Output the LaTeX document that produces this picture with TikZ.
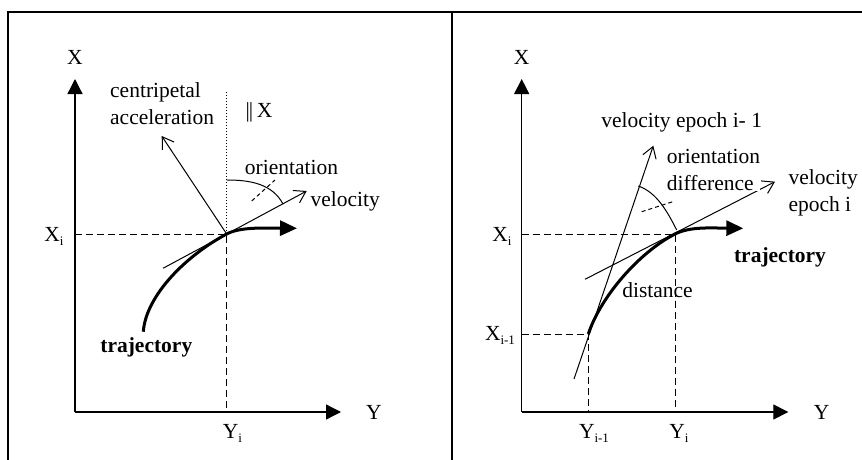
\documentclass[tikz,border=0pt]{standalone}
\usepackage{fontspec}
\setmainfont{Liberation Serif}
\usetikzlibrary{arrows.meta}
\newcommand\mysub[1]{\raisebox{-4pt}{\fontsize{13}{13}\selectfont #1}}
\begin{document}
\begin{tikzpicture}[x=1pt,y=-1pt,
  txt/.style={font=\fontsize{21.5}{27}\selectfont, inner sep=0pt},
  axis/.style={line width=1.3pt,-{Triangle[length=15pt,width=15pt]}},
  thinl/.style={line width=1pt},
  vec/.style={line width=1pt,-{Straight Barb[length=11pt,width=14pt]}},
  guide/.style={line width=1pt,dash pattern=on 7pt off 4pt},
  tick/.style={line width=1pt,dash pattern=on 4pt off 3pt},
  traj/.style={line width=3pt,-{Triangle[length=17pt,width=15pt]}},
  frame/.style={line width=1.5pt},
]
\useasboundingbox (0,0) rectangle (862,460);
% frame
\draw[frame] (8,460) -- (8,12) -- (862,12);
\draw[frame] (452,12) -- (452,460);

% ---------------- left panel
\coordinate (LO) at (75,412);
\coordinate (LXt) at (75,79);
\coordinate (LYt) at (341,412);
\coordinate (P) at (226.7,234);
\coordinate (LXi) at (75,234);
\coordinate (LYi) at (226.7,412);
\coordinate (Ldot) at (226.7,92);
\coordinate (Ltraj0) at (143.3,331.7);
\coordinate (Ltraj1) at (297,228.3);
\coordinate (Ltan0) at (163,268.3);
\coordinate (Lvel) at (306.7,191);
\coordinate (Lacc) at (161.7,136);
\coordinate (Larc0) at (227,180);
\coordinate (Larc1) at (283,204);
\coordinate (Ltick0) at (251.7,201);
\coordinate (Ltick1) at (275,180);

\draw[guide] (LXi) -- (P) -- (LYi);
\draw[thinl, dotted] (P) -- (Ldot);
\draw[axis] (LO) -- (LXt);
\draw[axis] (LO) -- (LYt);
\draw[traj] (Ltraj0) .. controls (146,295) and (187,255) .. (P) .. controls (240,227) and (262,228) .. (Ltraj1);
\draw[vec] (Ltan0) -- (Lvel);
\draw[vec] (P) -- (Lacc);
\draw[thinl] (Larc0) .. controls (252,180) and (272.6,184.6) .. (Larc1);
\draw[tick] (Ltick0) -- (Ltick1);

\node[txt] (lX) at (75,57) {X};
\node[txt] (lY) at (374,412) {Y};
\node[txt] (lXi) at (54,236) {X\mysub{i}};
\node[txt] (lYi) at (232.5,433) {Y\mysub{i}};
\node[txt, align=left, anchor=west] (lcent) at (110,104) {centripetal\\acceleration};
\node[txt] (lpar) at (259,112) {|\kern-1pt|\,X};
\node[txt] (lori) at (291.5,167) {orientation};
\node[txt] (lvel) at (345.3,201) {velocity};
\node[txt, font=\fontsize{21.5}{27}\selectfont\bfseries] (ltraj) at (146.3,347) {trajectory};

% ---------------- right panel
\coordinate (RO) at (521.7,412);
\coordinate (RXt) at (521.7,79);
\coordinate (RYt) at (788.3,412);
\coordinate (Q) at (675,234);
\coordinate (Q0) at (588.3,334);
\coordinate (RXi) at (521.7,234);
\coordinate (RYi) at (675,412);
\coordinate (RXj) at (521.7,334);
\coordinate (RYj) at (588.3,412);
\coordinate (Rtraj1) at (743.3,228.3);
\coordinate (Rv0a) at (574,379);
\coordinate (Rv0b) at (653.3,145.7);
\coordinate (Rv1a) at (585,279.3);
\coordinate (Rv1b) at (775,181.7);
\coordinate (Rarc0) at (638.3,186);
\coordinate (Rarc1) at (676.7,230);
\coordinate (Rtick0) at (641.7,211.7);
\coordinate (Rtick1) at (675,201);

\draw[guide] (RXi) -- (Q) -- (RYi);
\draw[guide] (RXj) -- (Q0) -- (RYj);
\draw[axis] (RO) -- (RXt);
\draw[axis] (RO) -- (RYt);
\draw[traj] (Q0) .. controls (601,296) and (639.4,252.3) .. (Q) .. controls (690,226.5) and (710,228) .. (Rtraj1);
\draw[vec] (Rv0a) -- (Rv0b);
\draw[vec] (Rv1a) -- (Rv1b);
\draw[thinl] (Rarc0) .. controls (657,192.4) and (667.6,212.2) .. (Rarc1);
\draw[tick] (Rtick0) -- (Rtick1);

\node[txt] (rX) at (521.7,57) {X};
\node[txt] (rY) at (821.7,412) {Y};
\node[txt] (rXi) at (502,236) {X\mysub{i}};
\node[txt] (rXj) at (500,335) {X\mysub{i-1}};
\node[txt] (rYj) at (594,433) {Y\mysub{i-1}};
\node[txt] (rYi) at (679,433) {Y\mysub{i}};
\node[txt] (rv0) at (681.7,122) {velocity epoch i- 1};
\node[txt, align=left, anchor=west, fill=white] (rori) at (666.7,170) {orientation\\difference};
\node[txt, align=left, anchor=west] (rv1) at (788.3,193) {velocity\\epoch i};
\node[txt, font=\fontsize{21.5}{27}\selectfont\bfseries] (rtraj) at (780,257) {trajectory};
\node[txt] (rdist) at (657.5,290) {distance};
\end{tikzpicture}
\end{document}
